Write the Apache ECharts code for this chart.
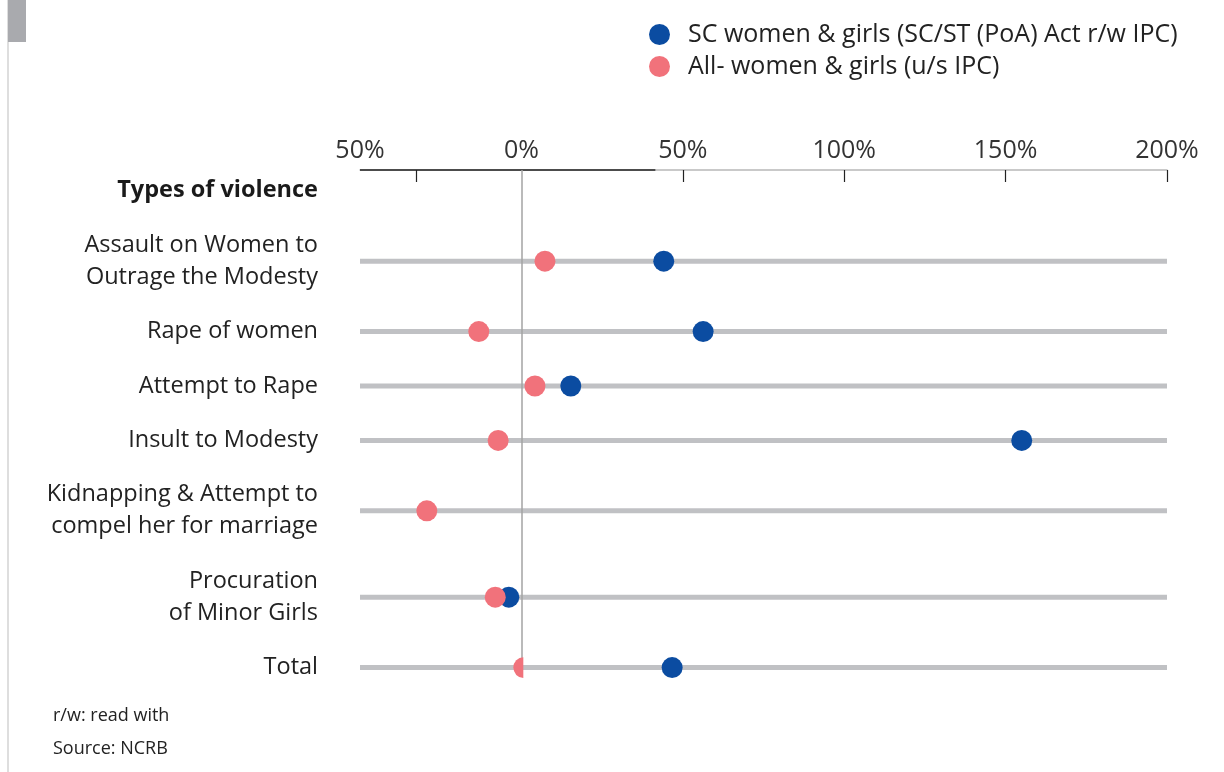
<!DOCTYPE html>
<html>
<head>
<meta charset="utf-8">
<script src="https://cdn.jsdelivr.net/npm/echarts@6/dist/echarts.min.js"></script>
<style>
  html, body { margin: 0; padding: 0; background: #fff; }
  #chart { width: 1224px; height: 772px; }
</style>
</head>
<body>
<div id="chart"></div>
<script>
// Types of violence (multi-line labels use \n)
const categories = [
  'Assault on Women to\nOutrage the Modesty',
  'Rape of women',
  'Attempt to Rape',
  'Insult to Modesty',
  'Kidnapping & Attempt to\ncompel her for marriage',
  'Procuration\nof Minor Girls',
  'Total'
];
// % change, SC women & girls (SC/ST (PoA) Act r/w IPC)
const scValues = [44.1, 56.3, 15.3, 155.0, null, -3.9, 46.7];
// % change, all women & girls (u/s IPC)
const allValues = [7.3, -13.2, 4.2, -7.2, -29.3, -8.1, 0.6];
// x axis ticks
const xLabelValues = [-50, 0, 50, 100, 150, 200];
const xTickMarks = [-32.5, 50, 100, 150, 200];

const seriesNames = ['SC women & girls (SC/ST (PoA) Act r/w IPC)', 'All- women & girls (u/s IPC)'];

const FONT = 'Open Sans';
const X_MIN = -50, X_MAX = 200;
const BLUE = '#0b4ca1', PINK = '#f1727b';

// Row layout: each row is as tall as its label lines plus padding
const UNIT_PX = 32, HEADER = 1.5, ROW_PAD = 0.7, GRID_TOP = 170;
const centers = [];
let acc = HEADER;
categories.forEach(c => {
  const h = c.split('\n').length + ROW_PAD;
  centers.push(acc + h / 2);
  acc += h;
});
const yMax = centers[centers.length - 1] + 0.28;

const rowLines = centers.map(c => [X_MIN, X_MAX, c]);
const scData = [];
scValues.forEach((v, i) => { if (v !== null) scData.push([v, centers[i]]); });
const allData = allValues.map((v, i) => {
  const d = { value: [v, centers[i]] };
  // the Total marker sits at the zero line and only its left half shows
  if (i === categories.length - 1) {
    d.symbol = 'path://M10,0 A10,10 0 0 0 10,20 Z';
    d.symbolSize = [10, 20.6];
    d.symbolOffset = [-5, 0];
  }
  return d;
});

function hline(color, width) {
  return function (params, api) {
    const a = api.coord([api.value(0), api.value(2)]);
    const b = api.coord([api.value(1), api.value(2)]);
    return { type: 'line', shape: { x1: a[0], y1: a[1], x2: b[0], y2: b[1] },
             style: { stroke: color, lineWidth: width } };
  };
}

const chart = echarts.init(document.getElementById('chart'), null, { renderer: 'canvas' });
chart.setOption({
  backgroundColor: '#ffffff',
  animation: false,
  textStyle: { fontFamily: FONT },
  title: [
    { text: 'Types of violence', right: 1224 - 318, top: 178, padding: 0,
      textStyle: { fontFamily: FONT, fontSize: 23.5, fontWeight: 'bold', color: '#1a1a1a' } }
  ],
  legend: {
    orient: 'vertical', left: 644, top: 17, itemGap: 7, padding: 5,
    itemWidth: 21, itemHeight: 21, icon: 'circle',
    data: seriesNames,
    textStyle: { fontFamily: FONT, fontSize: 25, color: '#222', padding: [0, 0, 0, 13] }
  },
  grid: { left: 360, right: 1224 - 1167, top: GRID_TOP, height: yMax * UNIT_PX },
  xAxis: {
    type: 'value', position: 'top', min: X_MIN, max: X_MAX, interval: 50,
    axisLine: { show: true, lineStyle: { color: '#b8b8b8', width: 1.5 } },
    axisTick: { show: true, inside: true, length: 12, customValues: xTickMarks,
                lineStyle: { color: '#222', width: 1.2 } },
    axisLabel: { customValues: xLabelValues, formatter: v => Math.abs(v) + '%',
                 fontFamily: FONT, fontSize: 25, color: '#333', margin: 7 },
    splitLine: { show: false }
  },
  yAxis: {
    type: 'value', inverse: true, min: 0, max: yMax,
    axisLine: { show: false }, axisTick: { show: false }, splitLine: { show: false },
    axisLabel: {
      customValues: centers,
      formatter: (v) => {
        const i = centers.findIndex(c => Math.abs(c - v) < 1e-6);
        return i >= 0 ? categories[i] : '';
      },
      fontFamily: FONT, fontSize: 23.5, color: '#222', lineHeight: 32, align: 'right', margin: 42
    }
  },
  series: [
    {
      type: 'custom', name: 'rows', z: 1, silent: true,
      renderItem: hline('#c0c1c4', 5),
      encode: { x: [0, 1], y: 2 },
      data: rowLines,
      markLine: {
        silent: true, symbol: 'none', label: { show: false },
        lineStyle: { color: '#a3a3a3', width: 1.5, type: 'solid' },
        data: [{ xAxis: 0 }]
      }
    },
    {
      // dark stretch of the top axis line
      type: 'custom', name: 'axisDark', z: 3, silent: true, clip: false,
      renderItem: hline('#222', 1.5),
      encode: { x: [0, 1], y: 2 },
      data: [[X_MIN, 41.5, 0]]
    },
    {
      type: 'scatter', name: seriesNames[0], z: 4, symbol: 'circle', symbolSize: 21,
      itemStyle: { color: BLUE, opacity: 1 }, data: scData
    },
    {
      type: 'scatter', name: seriesNames[1], z: 5, symbol: 'circle', symbolSize: 21,
      itemStyle: { color: PINK, opacity: 1 }, data: allData
    }
  ],
  graphic: [
    { type: 'rect', left: 7, top: 0, shape: { width: 2, height: 772 }, style: { fill: '#dedede' }, silent: true },
    { type: 'rect', left: 8, top: 0, shape: { width: 18, height: 42 }, style: { fill: '#a9aaae' }, silent: true },
    { type: 'text', left: 53, top: 707, style: { text: 'r/w: read with', font: '18px ' + FONT, fill: '#222' } },
    { type: 'text', left: 53, top: 740, style: { text: 'Source: NCRB', font: '18px ' + FONT, fill: '#222' } }
  ]
});
</script>
</body>
</html>
